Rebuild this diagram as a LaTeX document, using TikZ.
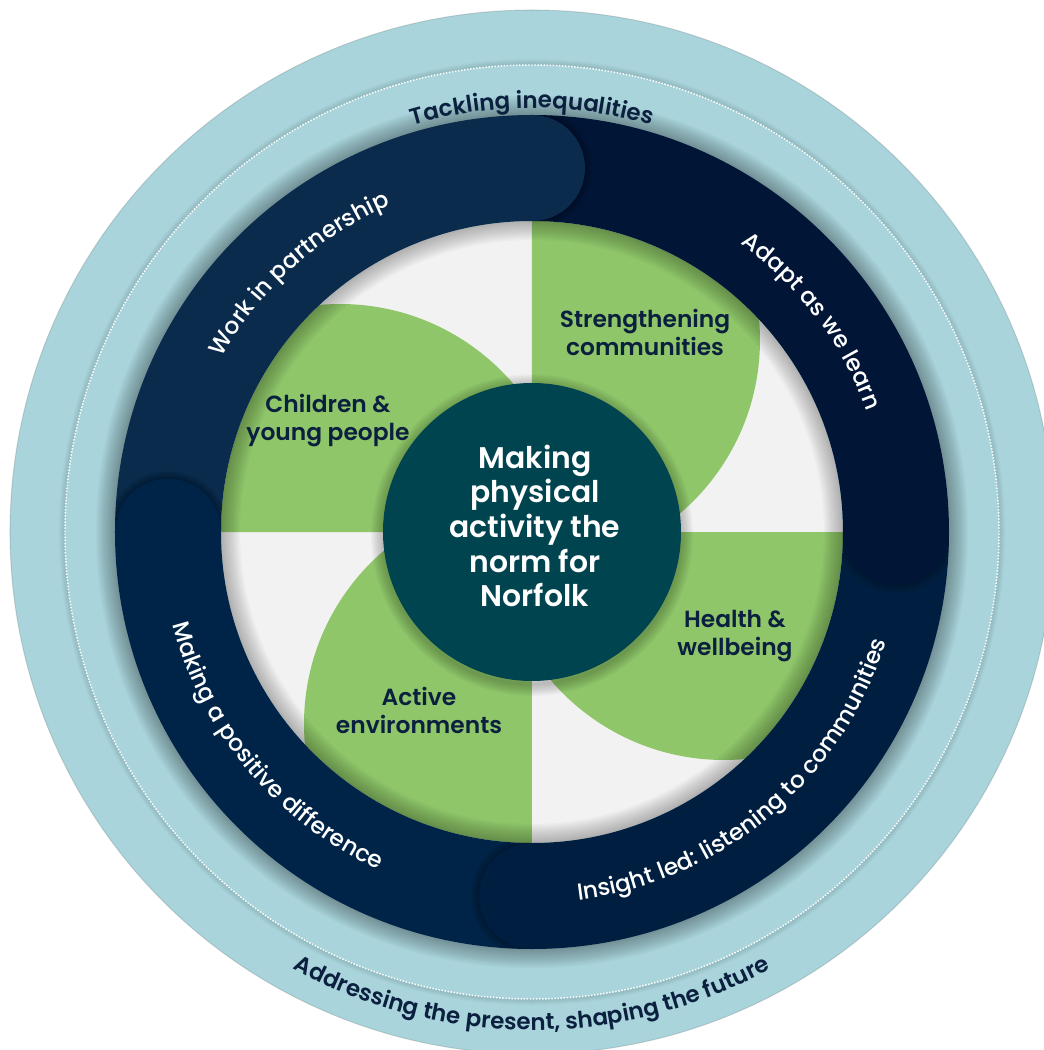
\documentclass[tikz,border=0pt]{standalone}
\usepackage{fontspec}
\setmainfont{Poppins}
\newfontfamily\ringfont{Poppins Medium}
\newfontfamily\labelfont{Poppins SemiBold}
\usepackage{tikz}
\usetikzlibrary{decorations.text}
\definecolor{ringblue}{HTML}{A9D4DB}
\definecolor{workblue}{HTML}{0A2B4B}
\definecolor{adaptblue}{HTML}{011637}
\definecolor{insightblue}{HTML}{001F40}
\definecolor{makingblue}{HTML}{002447}
\definecolor{petalgreen}{HTML}{8FC66A}
\definecolor{discgrey}{HTML}{F2F2F2}
\definecolor{coreteal}{HTML}{00444F}
\definecolor{inknavy}{HTML}{0B1F3F}

\begin{document}
\begin{tikzpicture}[x=0.75pt, y=0.75pt,
    petal/.style={fill=petalgreen},
    petallabel/.style={font=\labelfont\fontsize{17.5}{21}\selectfont, text=inknavy, align=center, inner sep=0pt},
    corelabel/.style={font=\labelfont\fontsize{22.4}{26}\selectfont, text=white, align=center, inner sep=0pt},
    ringtext/.style={decorate, decoration={text along path, text align=center,
        text={|\ringfont\fontsize{17.5}{19}\selectfont\color{white}|#1}}},
    outertext/.style={decorate, decoration={text along path, text align=center,
        text={|\labelfont\fontsize{17.2}{19}\selectfont\color{inknavy}|#1}}},
    shadowring/.style={draw=black, draw opacity=#1, fill=none}
]
    \clip (-532,-518) rectangle (512,532);
    \fill[white] (-532,-518) rectangle (512,532);
    \coordinate (O) at (0,0);

    % Outer band
    \fill[ringblue] (O) circle (522);
    \draw[black, opacity=0.12, line width=0.8pt] (O) circle (522);
    \foreach \k [evaluate=\k as \w using \k*1.5] in {1,...,6}
        \draw[shadowring=0.02, line width=\w pt] (O) circle (467);
    \fill[ringblue] (O) circle (467);
    \draw[white, line width=1.1pt, dash pattern=on 1.1pt off 1.2pt] (O) circle (467);

    % Shadow under the dark ring
    \foreach \k [evaluate=\k as \w using \k*2.4] in {1,...,12}
        \draw[shadowring=0.028, line width=\w pt] (O) circle (417);

    % Inner disc with the four petals
    \begin{scope}
        \clip (O) circle (311);
        \fill[discgrey] (O) circle (311);
        \fill[petal] (0,420) arc[start angle=90, end angle=-90, radius=228] -- cycle;
        \fill[petal] (36,0) arc[start angle=0, end angle=180, radius=228] -- cycle;
        \fill[petal] (0,36) arc[start angle=90, end angle=270, radius=228] -- cycle;
        \fill[petal] (-36,0) arc[start angle=180, end angle=360, radius=228] -- cycle;
        \foreach \k [evaluate=\k as \w using \k*2.4] in {1,...,12}
            \draw[shadowring=0.022, line width=\w pt] (O) circle (311);
        \foreach \k [evaluate=\k as \w using \k*1.8] in {1,...,10}
            \draw[shadowring=0.025, line width=\w pt] (0,-3) circle (149);
    \end{scope}

    % Centre
    \fill[coreteal] (O) circle (149);

    % Dark ring, four segments chasing clockwise
    \foreach \a/\c in {180/workblue, 90/adaptblue, 0/insightblue, -90/makingblue}
        \fill[\c] (\a:417) arc[start angle=\a, end angle=\a-90, radius=417]
            -- (\a-90:311) arc[start angle=\a-90, end angle=\a, radius=311] -- cycle;
    \foreach \a/\c in {90/workblue, 0/adaptblue, -90/insightblue, 180/makingblue} {
        \begin{scope}
            \clip (\a:417) arc[start angle=\a, end angle=\a-90, radius=417]
                -- (\a-90:311) arc[start angle=\a-90, end angle=\a, radius=311] -- cycle;
            \foreach \k [evaluate=\k as \w using \k*1.5] in {1,...,8}
                \draw[shadowring=0.03, line width=\w pt] (\a:364) circle (53);
        \end{scope}
        \fill[\c] (\a:364) circle (53);
    }

    % Labels
    \node[corelabel] (core) at (3,6) {Making\\physical\\activity the\\norm for\\Norfolk};
    \node[petallabel] (communities) at (113,200) {Strengthening\\communities};
    \node[petallabel] (children) at (-204,111) {Children \&\\young people};
    \node[petallabel] (health) at (203,-104) {Health \&\\wellbeing};
    \node[petallabel] (environments) at (-113,-178) {Active\\environments};

    % Ring captions
    \path[ringtext={Work in partnership}] (172:356) arc[start angle=172, end angle=92, radius=356];
    \path[ringtext={Adapt as we learn}] (77:356) arc[start angle=77, end angle=-3, radius=356];
    \path[ringtext={Insight led: listening to communities}] (255:371) arc[start angle=255, end angle=365, radius=371];
    \path[ringtext={Making a positive difference}] (165:371) arc[start angle=165, end angle=275, radius=371];

    % Outer band captions
    \path[outertext={Tackling inequalities}] (140:424) arc[start angle=140, end angle=40, radius=424];
    \path[outertext={Addressing the present, shaping the future}] (200:498) arc[start angle=200, end angle=340, radius=498];
\end{tikzpicture}
\end{document}
